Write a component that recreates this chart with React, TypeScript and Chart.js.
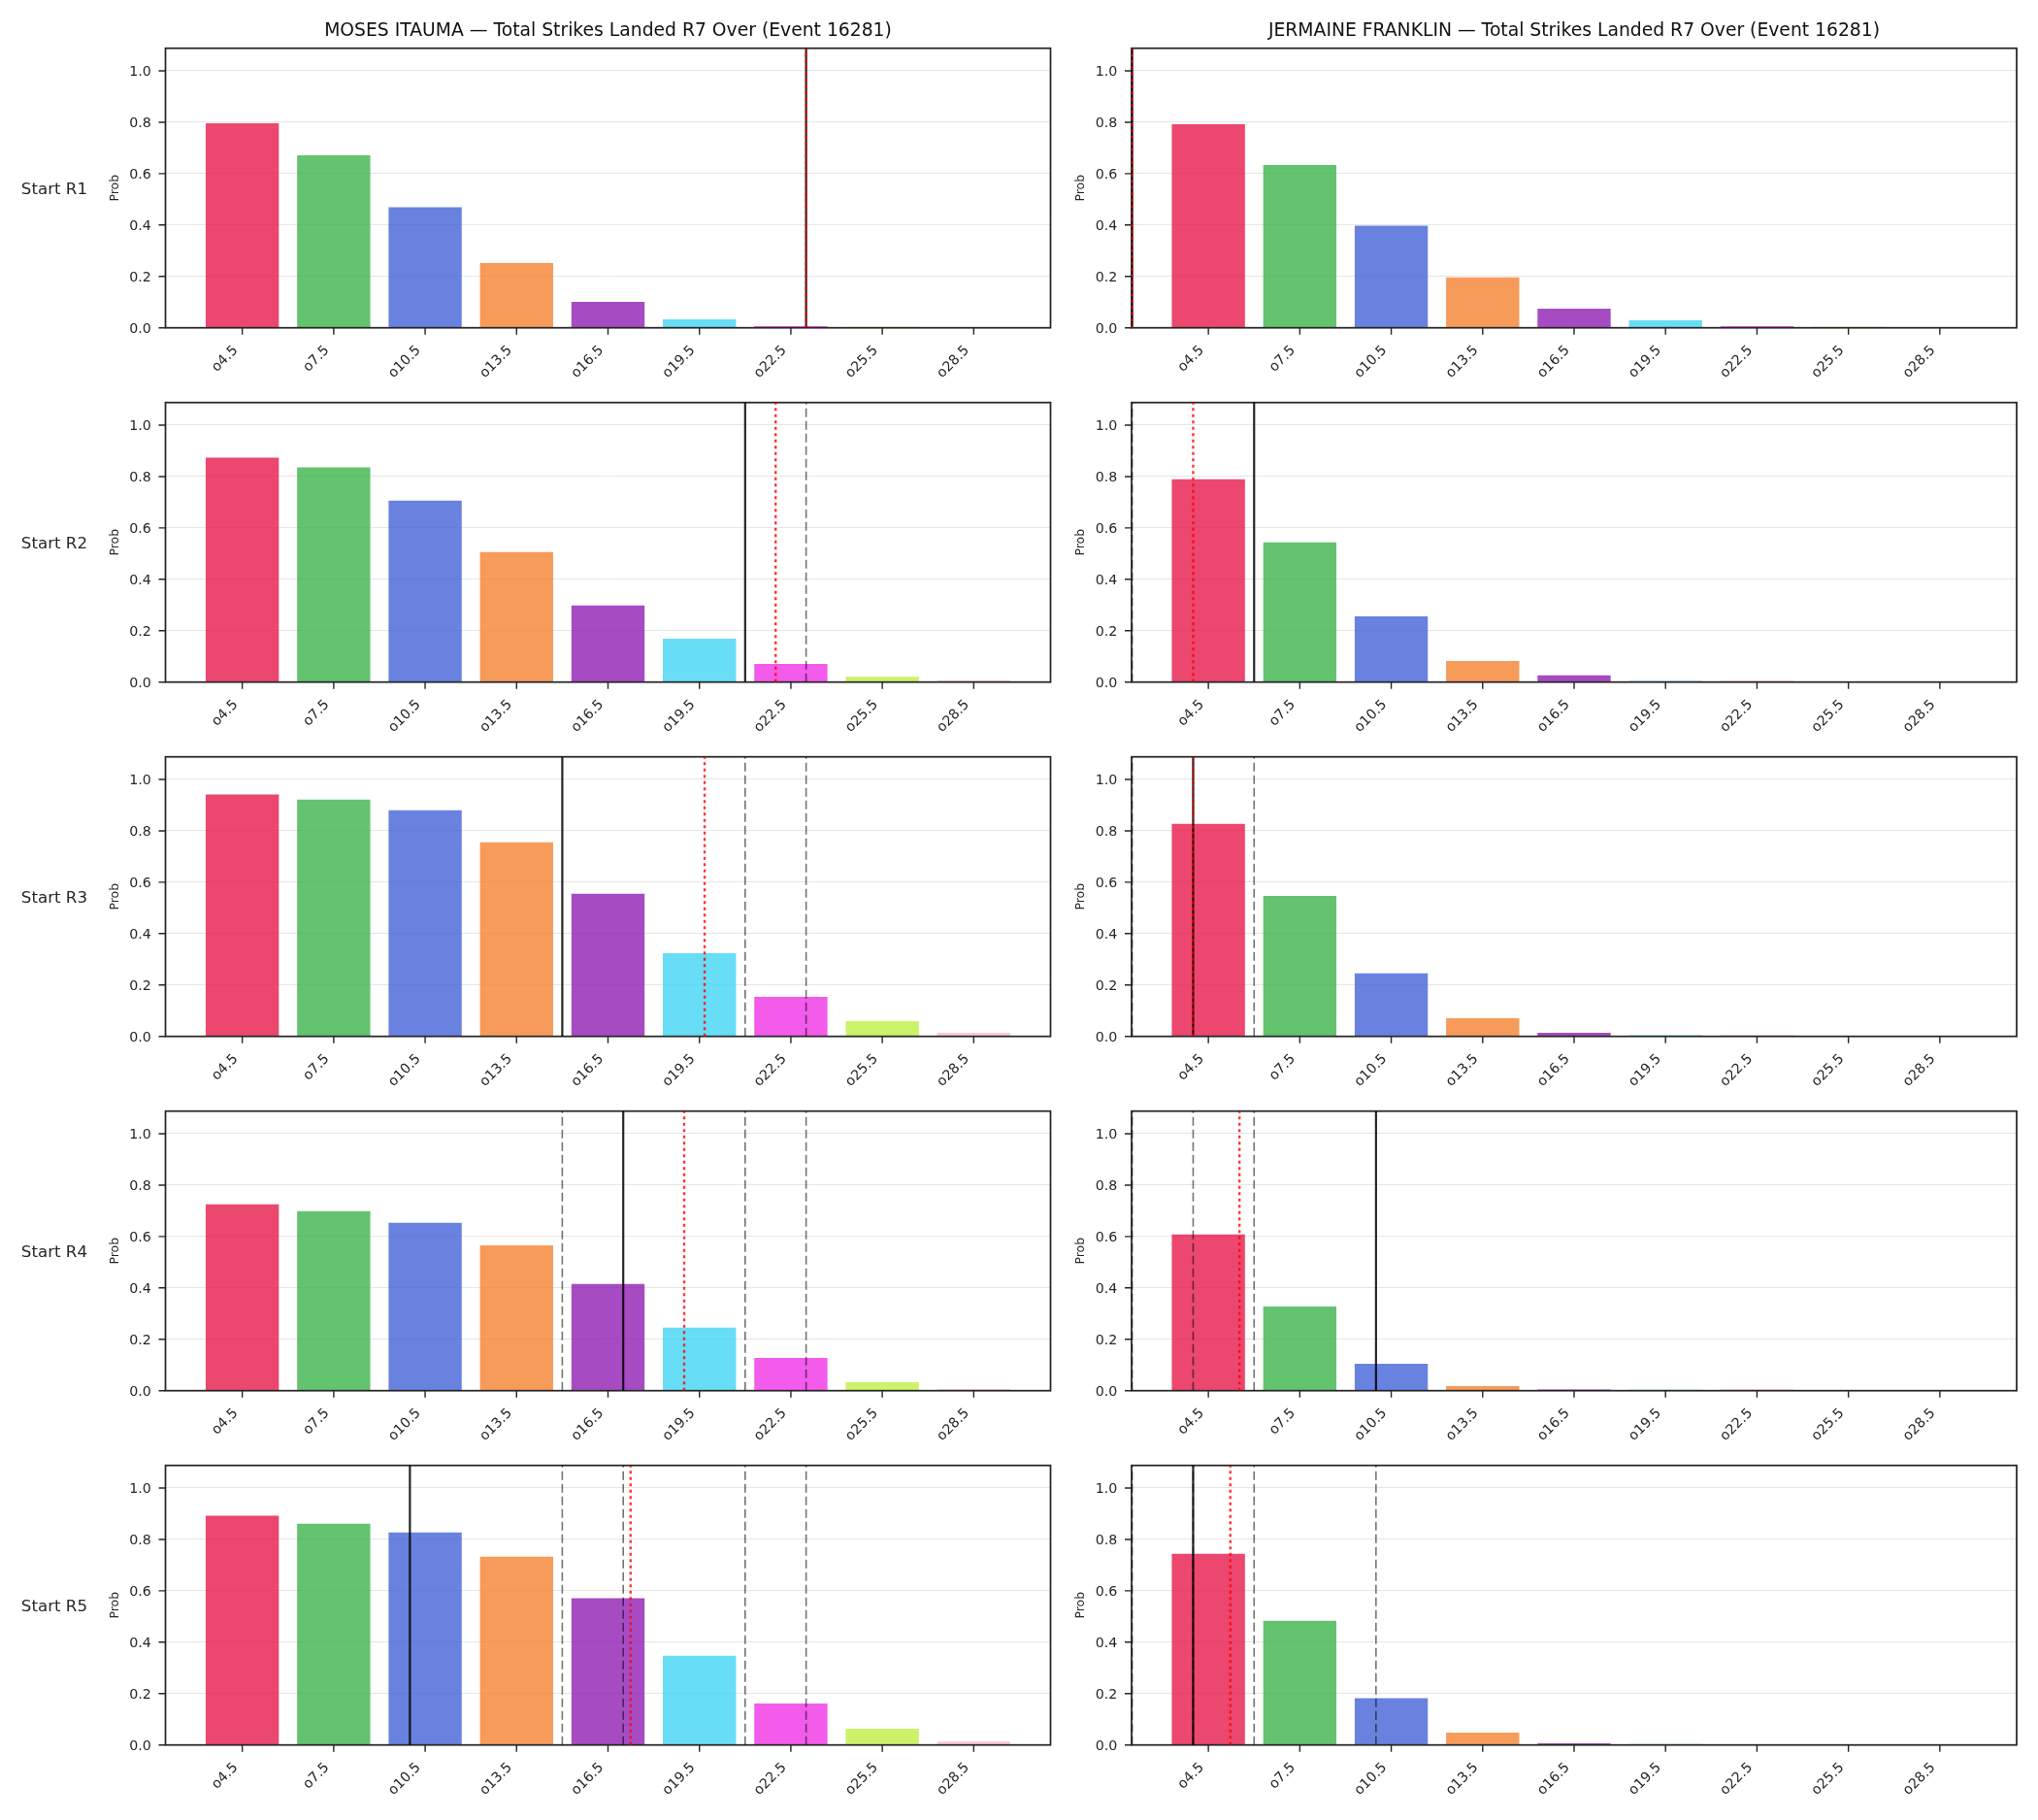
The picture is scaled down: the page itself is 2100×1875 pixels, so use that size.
import { useEffect, useRef } from 'react';
import { Chart, registerables } from 'chart.js';

Chart.register(...registerables);

const FONT = '"DejaVu Sans", "Liberation Sans", sans-serif';
const INK = '#262626';

// Over lines on the x axis (strikes landed)
const THRESHOLDS = [4.5, 7.5, 10.5, 13.5, 16.5, 19.5, 22.5, 25.5, 28.5];
const TICK_LABELS = ['o4.5', 'o7.5', 'o10.5', 'o13.5', 'o16.5', 'o19.5', 'o22.5', 'o25.5', 'o28.5'];
const Y_TICKS = [0, 0.2, 0.4, 0.6, 0.8, 1.0];
const Y_TICK_LABELS = ['0.0', '0.2', '0.4', '0.6', '0.8', '1.0'];
const ROUND_LABELS = ['Start R1', 'Start R2', 'Start R3', 'Start R4', 'Start R5'];
const FIGHTER_TITLES = [
  'MOSES ITAUMA — Total Strikes Landed R7 Over (Event 16281)',
  'JERMAINE FRANKLIN — Total Strikes Landed R7 Over (Event 16281)',
];
const BAR_COLORS = ['#e6194B', '#3cb44b', '#4363d8', '#f58231', '#911eb4', '#42d4f4', '#f032e6', '#bfef45', '#fabed4'];

// P(over) for each line, by starting round
const ITAUMA_R1 = [0.796, 0.671, 0.469, 0.252, 0.101, 0.033, 0.006, 0.004, 0.002];
const ITAUMA_R2 = [0.873, 0.836, 0.706, 0.506, 0.298, 0.169, 0.071, 0.021, 0.006];
const ITAUMA_R3 = [0.941, 0.922, 0.88, 0.755, 0.555, 0.324, 0.154, 0.059, 0.014];
const ITAUMA_R4 = [0.725, 0.699, 0.653, 0.566, 0.415, 0.245, 0.127, 0.033, 0.006];
const ITAUMA_R5 = [0.892, 0.861, 0.827, 0.733, 0.571, 0.347, 0.161, 0.063, 0.014];
const FRANKLIN_R1 = [0.792, 0.634, 0.397, 0.196, 0.074, 0.029, 0.006, 0.004, 0.002];
const FRANKLIN_R2 = [0.789, 0.544, 0.256, 0.082, 0.026, 0.005, 0.004, 0.003, 0.002];
const FRANKLIN_R3 = [0.827, 0.547, 0.245, 0.071, 0.014, 0.005, 0.004, 0.003, 0.002];
const FRANKLIN_R4 = [0.608, 0.328, 0.105, 0.018, 0.005, 0.004, 0.004, 0.003, 0.002];
const FRANKLIN_R5 = [0.744, 0.483, 0.182, 0.048, 0.006, 0.004, 0.003, 0.002, 0.001];

// Strike counts marked per round: realised (solid) and projected (dotted)
const ITAUMA_ACTUAL = [23, 21, 15, 17, 10];
const ITAUMA_PROJECTED = [23, 22, 19.67, 19, 17.24];
const FRANKLIN_ACTUAL = [2, 6, 4, 10, 4];
const FRANKLIN_PROJECTED = [2, 4, 4, 5.52, 5.22];

const ITAUMA_ROUNDS = [ITAUMA_R1, ITAUMA_R2, ITAUMA_R3, ITAUMA_R4, ITAUMA_R5];
const FRANKLIN_ROUNDS = [FRANKLIN_R1, FRANKLIN_R2, FRANKLIN_R3, FRANKLIN_R4, FRANKLIN_R5];

// Axis limits
const X_MIN = 1.98;
const X_MAX = 31.02;
const Y_MAX = 1.088;

// Layout
const PLOT_W = 912;
const PLOT_H = 288;
const COL_PLOT_LEFT = [170.5, 1166];
const COL_CANVAS_LEFT = [0, 1090];
const COL_CANVAS_W = [1103, 1010];
const FIRST_PLOT_TOP = 49.7;
const ROW_STEP = 365;
const CANVAS_H = 415;

const TICK_PX = 14.2;
const TITLE_PX = 18.75;
const ROW_LABEL_PX = 16.67;
const YLABEL_PX = 12.5;

function withAlpha(hex: string, a: number) {
  const h = hex.replace('#', '');
  const r = parseInt(h.slice(0, 2), 16);
  const g = parseInt(h.slice(2, 4), 16);
  const b = parseInt(h.slice(4, 6), 16);
  return `rgba(${r},${g},${b},${a})`;
}

type PanelProps = {
  col: number;
  row: number;
  values: number[];
  actual: number;
  projected: number;
  previous: number[];
};

function makeDecor(p: PanelProps) {
  return {
    id: 'panelDecor',
    afterDraw(chart: any) {
      const { ctx, chartArea: a, scales } = chart;
      const xs = scales.x;
      const ys = scales.y;

      ctx.save();
      ctx.setLineDash([]);
      // frame
      ctx.strokeStyle = INK;
      ctx.lineWidth = 1.75;
      ctx.strokeRect(a.left, a.top, a.right - a.left, a.bottom - a.top);

      // tick marks
      ctx.lineWidth = 1.4;
      ctx.beginPath();
      Y_TICKS.forEach((v) => {
        const y = ys.getPixelForValue(v);
        ctx.moveTo(a.left - 7, y);
        ctx.lineTo(a.left, y);
      });
      xs.ticks.forEach((t: any) => {
        const x = xs.getPixelForValue(t.value);
        ctx.moveTo(x, a.bottom);
        ctx.lineTo(x, a.bottom + 7);
      });
      ctx.stroke();
      ctx.restore();

      // reference lines: earlier rounds (dashed), realised (solid), projected (dotted)
      ctx.save();
      ctx.beginPath();
      ctx.rect(a.left - 0.5, a.top, a.right - a.left + 1, a.bottom - a.top);
      ctx.clip();
      const vline = (v: number, color: string, width: number, dash: number[]) => {
        const x = xs.getPixelForValue(v);
        ctx.beginPath();
        ctx.setLineDash(dash);
        ctx.strokeStyle = color;
        ctx.lineWidth = width;
        ctx.lineCap = 'butt';
        ctx.moveTo(x, a.bottom);
        ctx.lineTo(x, a.top);
        ctx.stroke();
      };
      p.previous.forEach((v) => vline(v, 'rgba(0,0,0,0.55)', 1.6, [9, 4]));
      vline(p.actual, 'rgba(0,0,0,0.85)', 2.2, []);
      vline(p.projected, 'rgba(255,0,0,0.8)', 2.4, [3, 3.5]);
      ctx.restore();

      ctx.save();
      ctx.fillStyle = INK;
      // y tick labels
      ctx.font = `${TICK_PX}px ${FONT}`;
      ctx.textAlign = 'right';
      ctx.textBaseline = 'alphabetic';
      Y_TICKS.forEach((v, i) => {
        const y = ys.getPixelForValue(v);
        ctx.fillText(Y_TICK_LABELS[i], a.left - 14.8, y + 5.1);
      });

      // x tick labels, rotated 45 degrees and right-aligned on the tick
      const boxH = TICK_PX * 1.17;
      ctx.textAlign = 'right';
      ctx.textBaseline = 'top';
      xs.ticks.forEach((t: any, i: number) => {
        const x = xs.getPixelForValue(t.value);
        ctx.save();
        ctx.translate(x - 0.707 * boxH, a.bottom + 16);
        ctx.rotate(-Math.PI / 4);
        ctx.fillText(TICK_LABELS[i], 0, 0);
        ctx.restore();
      });

      const midY = (a.top + a.bottom) / 2;
      // y axis label
      ctx.save();
      ctx.font = `${YLABEL_PX}px ${FONT}`;
      ctx.textAlign = 'center';
      ctx.textBaseline = 'alphabetic';
      ctx.translate(a.left - 49, midY);
      ctx.rotate(-Math.PI / 2);
      ctx.fillText('Prob', 0, 0);
      ctx.restore();

      // round label
      if (p.col === 0) {
        ctx.font = `${ROW_LABEL_PX}px ${FONT}`;
        ctx.textAlign = 'right';
        ctx.textBaseline = 'alphabetic';
        ctx.fillText(ROUND_LABELS[p.row], a.left - 80.5, midY + 5.8);
      }

      // fighter title
      if (p.row === 0) {
        ctx.font = `${TITLE_PX}px ${FONT}`;
        ctx.fillStyle = '#111111';
        ctx.textAlign = 'center';
        ctx.textBaseline = 'alphabetic';
        ctx.fillText(FIGHTER_TITLES[p.col], (a.left + a.right) / 2, a.top - 12.4);
      }
      ctx.restore();
    },
  };
}

function Panel(p: PanelProps) {
  const ref = useRef<HTMLCanvasElement>(null);
  const canvasLeft = COL_CANVAS_LEFT[p.col];
  const canvasW = COL_CANVAS_W[p.col];
  const plotTop = FIRST_PLOT_TOP + ROW_STEP * p.row;
  const canvasTop = Math.floor(plotTop) - 49;
  const yAxisW = COL_PLOT_LEFT[p.col] - canvasLeft;
  const padTop = plotTop - canvasTop;
  const padRight = canvasW - yAxisW - PLOT_W;
  const xAxisH = CANVAS_H - padTop - PLOT_H;

  useEffect(() => {
    const canvas = ref.current;
    if (!canvas) return;
    const chart = new Chart(canvas, {
      type: 'bar',
      data: {
        datasets: [
          {
            data: THRESHOLDS.map((t, i) => ({ x: t, y: p.values[i] })),
            backgroundColor: BAR_COLORS.map((c) => withAlpha(c, 0.8)),
            borderWidth: 0,
            barPercentage: 0.8,
            categoryPercentage: 1.0,
          },
        ],
      },
      options: {
        responsive: false,
        maintainAspectRatio: false,
        devicePixelRatio: 1,
        animation: false,
        events: [],
        layout: { padding: { left: 0, top: padTop, right: padRight, bottom: 0 } },
        plugins: {
          legend: { display: false },
          tooltip: { enabled: false },
          title: { display: false },
        },
        scales: {
          x: {
            type: 'linear',
            min: X_MIN,
            max: X_MAX,
            offset: false,
            grid: { display: false, offset: false },
            border: { display: false },
            ticks: { display: false },
            afterBuildTicks: (axis: any) => {
              axis.ticks = THRESHOLDS.map((v) => ({ value: v }));
            },
            afterFit: (axis: any) => {
              axis.height = xAxisH;
              axis.paddingLeft = 0;
              axis.paddingRight = 0;
              axis.paddingTop = 0;
              axis.paddingBottom = 0;
            },
          },
          y: {
            type: 'linear',
            min: 0,
            max: Y_MAX,
            grid: { color: '#e6e6e6', lineWidth: 1, drawTicks: false },
            border: { display: false },
            ticks: { display: false },
            afterBuildTicks: (axis: any) => {
              axis.ticks = Y_TICKS.map((v) => ({ value: v }));
            },
            afterFit: (axis: any) => {
              axis.width = yAxisW;
              axis.paddingTop = 0;
              axis.paddingBottom = 0;
              axis.paddingLeft = 0;
              axis.paddingRight = 0;
            },
          },
        },
      } as any,
      plugins: [makeDecor(p)],
    });
    return () => chart.destroy();
  }, []);

  return (
    <canvas
      ref={ref}
      width={canvasW}
      height={CANVAS_H}
      style={{ position: 'absolute', left: canvasLeft, top: canvasTop, width: canvasW, height: CANVAS_H }}
    />
  );
}

export default function App() {
  const panels = [];
  for (let row = 0; row < 5; row++) {
    panels.push(
      <Panel
        key={`l${row}`}
        col={0}
        row={row}
        values={ITAUMA_ROUNDS[row]}
        actual={ITAUMA_ACTUAL[row]}
        projected={ITAUMA_PROJECTED[row]}
        previous={ITAUMA_ACTUAL.slice(0, row)}
      />
    );
    panels.push(
      <Panel
        key={`r${row}`}
        col={1}
        row={row}
        values={FRANKLIN_ROUNDS[row]}
        actual={FRANKLIN_ACTUAL[row]}
        projected={FRANKLIN_PROJECTED[row]}
        previous={FRANKLIN_ACTUAL.slice(0, row)}
      />
    );
  }
  return (
    <div
      style={{
        position: 'absolute',
        left: 0,
        top: 0,
        width: 2100,
        height: 1875,
        background: '#ffffff',
        overflow: 'hidden',
      }}
    >
      {panels}
    </div>
  );
}
